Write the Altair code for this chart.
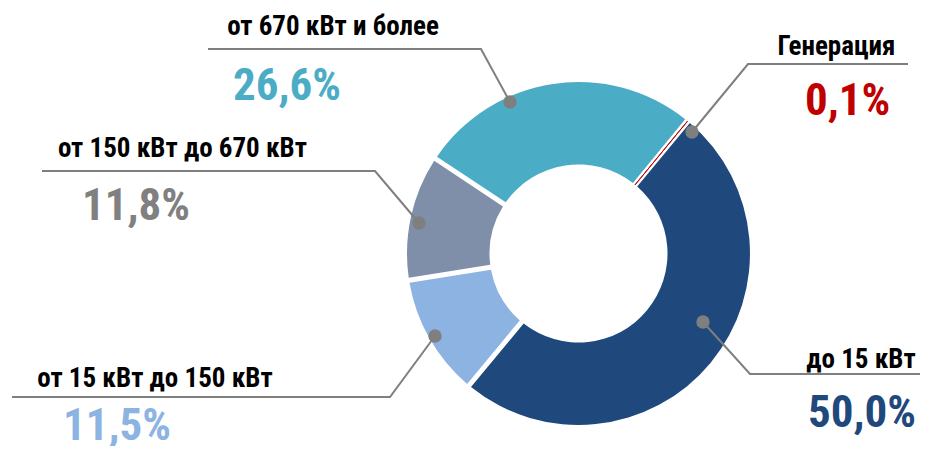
import math
import altair as alt
import pandas as pd

# ---- data ----
categories = ["Генерация", "до 15 кВт", "от 15 кВт до 150 кВт",
              "от 150 кВт до 670 кВт", "от 670 кВт и более"]
shares = [0.1, 50.0, 11.5, 11.8, 26.6]
pct_labels = ["0,1%", "50,0%", "11,5%", "11,8%", "26,6%"]

# ---- styles ----
slice_colors = ["#C00000", "#1F497D", "#8DB3E2", "#7F8FA9", "#4BACC6"]
pct_colors = ["#C00000", "#1F497D", "#8DB3E2", "#808080", "#4BACC6"]
FONT = "Roboto Condensed, Liberation Sans Narrow, Arial Narrow, sans-serif"
LINE_COLOR = "#7F7F7F"

# ---- layout (pixel positions of the annotations, chart coordinates) ----
W, H = 912, 438
CX, CY = 570.5, 245.5
R_OUT, R_IN = 171.5, 89
START = math.radians(39.3)

dots = [(684, 124), (695, 314), (427, 328), (411, 215), (502, 94)]
elbows = [(740, 56), (742, 366), (382, 389), (367, 163), (473, 41)]
ends = [(900, 56), (919, 366), (4, 389), (34, 163), (200, 41)]
name_pos = [(828.5, 47), (853, 360), (147, 379), (174.5, 149), (325, 27)]   # centre, baseline
pct_pos = [(797, 107), (800, 419), (55, 432), (74, 212), (225, 92)]         # left, baseline

pie_df = pd.DataFrame({
    "cat": categories,
    "share": shares,
    "idx": list(range(len(categories))),
})

rows = []
for i, c in enumerate(categories):
    for step, (x, y) in enumerate([dots[i], elbows[i], ends[i]]):
        rows.append({"cat": c, "step": step, "x": x, "y": y})
lines_df = pd.DataFrame(rows)

dots_df = pd.DataFrame({"cat": categories,
                        "x": [d[0] for d in dots],
                        "y": [d[1] for d in dots]})

names_df = pd.DataFrame({"cat": categories,
                         "x": [p[0] for p in name_pos],
                         "y": [p[1] for p in name_pos]})

pct_df = pd.DataFrame({"cat": categories, "label": pct_labels,
                       "x": [p[0] for p in pct_pos],
                       "y": [p[1] for p in pct_pos]})

donut = alt.Chart(pie_df).mark_arc(
    innerRadius=R_IN, outerRadius=R_OUT, padAngle=0.026, stroke="#C00000"
).encode(
    theta=alt.Theta("share:Q", stack=True,
                    scale=alt.Scale(range=[START, START + 2 * math.pi])),
    order=alt.Order("idx:Q"),
    color=alt.Color("cat:N", scale=alt.Scale(domain=categories, range=slice_colors),
                    legend=None),
    strokeWidth=alt.condition(alt.datum.cat == "Генерация", alt.value(1), alt.value(0)),
    x=alt.value(CX),
    y=alt.value(CY),
)

leaders = alt.Chart(lines_df).mark_line(color=LINE_COLOR, strokeWidth=2).encode(
    x=alt.X("x:Q", scale=None),
    y=alt.Y("y:Q", scale=None),
    detail="cat:N",
    order="step:Q",
)

dot_marks = alt.Chart(dots_df).mark_point(
    filled=True, shape="circle", size=180, color=LINE_COLOR, opacity=1
).encode(
    x=alt.X("x:Q", scale=None),
    y=alt.Y("y:Q", scale=None),
)

names = alt.Chart(names_df).mark_text(
    align="center", baseline="alphabetic", font=FONT, fontSize=27,
    fontWeight="bold", color="#000000"
).encode(
    x=alt.X("x:Q", scale=None),
    y=alt.Y("y:Q", scale=None),
    text="cat:N",
)

pcts = alt.Chart(pct_df).mark_text(
    align="left", baseline="alphabetic", font=FONT, fontSize=45,
    fontWeight="bold"
).encode(
    x=alt.X("x:Q", scale=None),
    y=alt.Y("y:Q", scale=None),
    text="label:N",
    color=alt.Color("cat:N", scale=alt.Scale(domain=categories, range=pct_colors),
                    legend=None),
)

chart = alt.layer(donut, leaders, dot_marks, names, pcts).properties(
    width=W, height=H, padding=0, autosize=alt.AutoSizeParams(type="none")
).resolve_scale(color="independent").configure_view(stroke=None)

chart.save("out.html", embed_options={"renderer": "svg", "actions": False})
